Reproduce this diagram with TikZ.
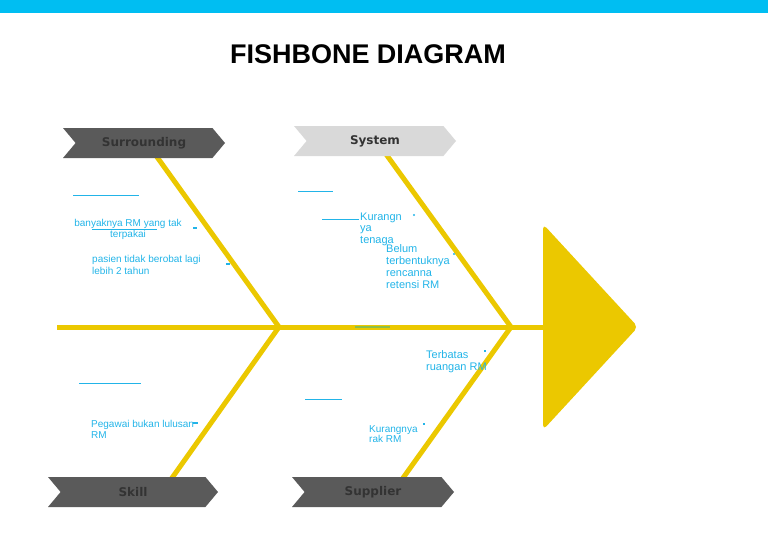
\documentclass[tikz,border=0pt]{standalone}
\usepackage{fontspec}
\setmainfont{Liberation Sans}
\newfontfamily\tagfont{DejaVu Sans}
\usetikzlibrary{shapes.symbols}

\definecolor{fishyellow}{HTML}{EBC800}
\definecolor{barblue}{HTML}{00BEF2}
\definecolor{notecyan}{HTML}{22B4E8}
\definecolor{tagdark}{HTML}{5A5A5A}
\definecolor{taglight}{HTML}{D9D9D9}
\definecolor{tagtext}{HTML}{333333}
\definecolor{markgreen}{HTML}{8CBF4A}

\tikzset{
	bone/.style={fishyellow, line width=5pt, line join=miter},
	tag/.style={signal, signal to=east, signal from=west, signal pointer angle=100,
		minimum width=162pt, minimum height=30pt, inner sep=0pt, draw=none,
		font=\tagfont\bfseries\fontsize{12}{14}\selectfont, text=tagtext},
	note/.style={inner sep=0pt, align=left, text=notecyan, font=\fontsize{10}{11}\selectfont},
	bignote/.style={note, font=\fontsize{11}{12}\selectfont},
	blank/.style={notecyan, line width=1pt},
}

\begin{document}
\begin{tikzpicture}[x=1pt, y=-1pt]
	\useasboundingbox (0,0) rectangle (768,543);
	\fill [barblue] (0,0) rectangle (768,13);
	\node [inner sep=0pt, font=\bfseries\fontsize{27}{30}\selectfont] (title) at (368,54.5) {FISHBONE DIAGRAM};

	% spine and head
	\coordinate (tail) at (57,327);
	\coordinate (head) at (543,327);
	\coordinate (j1) at (279,327);
	\coordinate (j2) at (511,327);
	\fill [fishyellow, rounded corners=5pt] (543,224) -- (638,327) -- (543,430) -- cycle;
	\draw [bone] (tail) -- (head);
	\draw [markgreen, line width=2pt] (355,327) -- (390,327);

	% bones
	\coordinate (surrB) at (152,150);
	\coordinate (skillB) at (167,485);
	\coordinate (sysB) at (383,150);
	\coordinate (suppB) at (398,485);
	\draw [bone] (surrB) -- (j1) -- (skillB);
	\draw [bone] (sysB) -- (j2) -- (suppB);

	% categories
	\node [tag, fill=tagdark] (surr) at (144,143) {Surrounding};
	\node [tag, fill=taglight] (sys) at (375,141) {System};
	\node [tag, fill=tagdark, minimum width=170pt] (skill) at (133,492) {Skill};
	\node [tag, fill=tagdark] (supp) at (373,492) {Supplier};

	% causes
	\node [note, align=center, anchor=north] (banyak) at (128,219.5) {banyaknya RM yang tak\\terpakai};
	\node [note, anchor=north west, font=\fontsize{10}{12.5}\selectfont] (pasien) at (92,255) {pasien tidak berobat lagi\\lebih 2 tahun};
	\node [bignote, anchor=north west, font=\fontsize{11}{11.5}\selectfont] (kurang) at (360,212.5) {Kurangn\\ya\\tenaga};
	\node [bignote, anchor=north west] (belum) at (386,244) {Belum\\terbentuknya\\rencanna\\retensi RM};
	\node [bignote, anchor=north west] (batas) at (426,350) {Terbatas\\ruangan RM};
	\node [note, anchor=north west, font=\fontsize{10}{10.5}\selectfont] (rak) at (369,425) {Kurangnya\\rak RM};
	\node [note, anchor=north west] (pegawai) at (91,420.5) {Pegawai bukan lulusan\\RM};

	% empty entries
	\foreach \xa/\xb/\y in {73/139/195, 92/157/229.5, 298/333/191, 322/359/219, 305/342/399, 79/141/383}
	\draw [blank] (\xa,\y) -- (\xb,\y);
	\foreach \xa/\xb/\y in {193/197/228, 226/230/264, 193/198/423, 484/486/351, 423/425/424}
	\draw [blank, line width=1.5pt] (\xa,\y) -- (\xb,\y);
	\foreach \x/\y in {414/215, 454/254}
	\fill [notecyan] (\x,\y) circle (1.2);
\end{tikzpicture}
\end{document}
